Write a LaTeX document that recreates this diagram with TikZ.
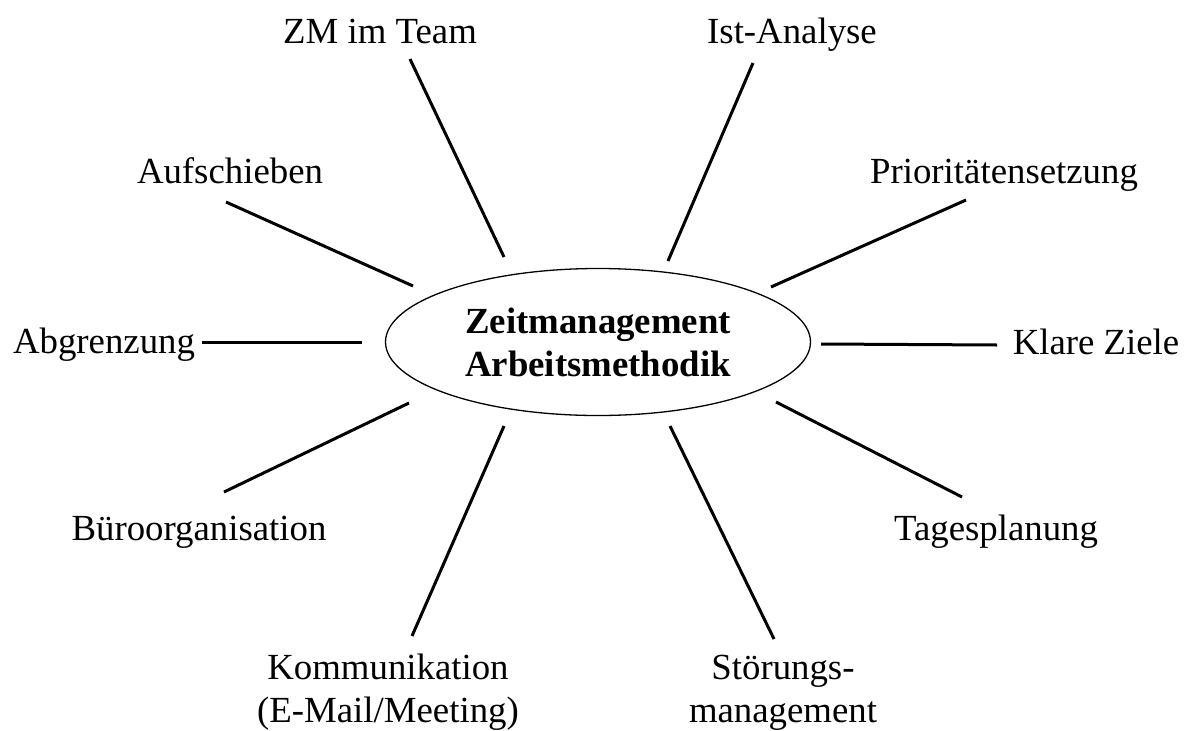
\documentclass[tikz,border=0pt]{standalone}
\usepackage{fontspec}
\setmainfont{Liberation Serif}
\usetikzlibrary{shapes.geometric}
\begin{document}
\begin{tikzpicture}[x=1pt,y=-1pt,
  lbl/.style={font=\fontsize{36.8}{43}\selectfont, inner sep=0pt, anchor=base, align=center},
  spoke/.style={line width=3pt},
  hub/.style={ellipse, draw, line width=1.3pt, minimum width=425pt, minimum height=147pt,
    inner sep=0pt, align=center, font=\fontsize{36.8}{43}\selectfont\bfseries}]
\useasboundingbox (0,0) rectangle (1189,731);

% central topic
\node[hub] (hub) at (598,342) {Zeitmanagement\\Arbeitsmethodik};

% topic labels (anchored on the baseline of their last line)
\node[lbl] (team)  at (380,43)   {ZM im Team};
\node[lbl] (ist)   at (792,43)   {Ist-Analyse};
\node[lbl] (auf)   at (230,183)  {Aufschieben};
\node[lbl] (prio)  at (1004,183) {Prioritätensetzung};
\node[lbl] (abg)   at (104,353)  {Abgrenzung};
\node[lbl] (ziele) at (1096,354) {Klare Ziele};
\node[lbl] (buero) at (199,540)  {Büroorganisation};
\node[lbl] (tag)   at (996,540)  {Tagesplanung};
\node[lbl] (komm)  at (388,722)  {Kommunikation\\(E-Mail/Meeting)};
\node[lbl] (stoer) at (783,722)  {Störungs-\\management};

% spoke end points
\coordinate (team-a)  at (410,59);   \coordinate (team-b)  at (504,257);
\coordinate (ist-a)   at (753,63);   \coordinate (ist-b)   at (668,261);
\coordinate (auf-a)   at (226,202);  \coordinate (auf-b)   at (413,286);
\coordinate (prio-a)  at (966,200);  \coordinate (prio-b)  at (771,287);
\coordinate (abg-a)   at (202,342);  \coordinate (abg-b)   at (362,342);
\coordinate (ziele-a) at (997,345);  \coordinate (ziele-b) at (821,344);
\coordinate (buero-a) at (224,492);  \coordinate (buero-b) at (409,403);
\coordinate (tag-a)   at (962,497);  \coordinate (tag-b)   at (776,402);
\coordinate (komm-a)  at (412,636);  \coordinate (komm-b)  at (504,426);
\coordinate (stoer-a) at (774,639);  \coordinate (stoer-b) at (670,426);

% spokes
\foreach \s in {team,ist,auf,prio,abg,ziele,buero,tag,komm,stoer}
  \draw[spoke] (\s-a) -- (\s-b);
\end{tikzpicture}
\end{document}
